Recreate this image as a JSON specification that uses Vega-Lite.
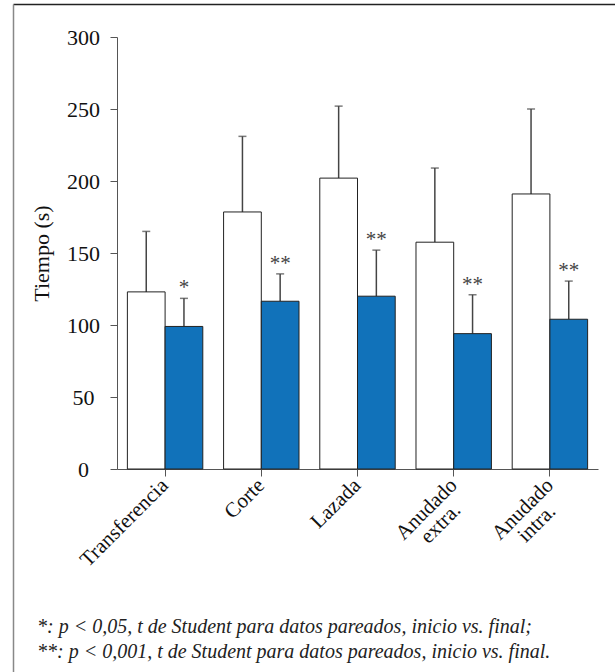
{
  "$schema": "https://vega.github.io/schema/vega-lite/v6.json",
  "autosize": "none",
  "width": 602,
  "height": 668,
  "padding": {"left": 13, "top": 4, "right": 0, "bottom": 0},
  "background": "white",
  "config": {"view": {"stroke": null}, "font": "Liberation Serif"},
  "title": {
    "text": ["*: p < 0,05, t de Student para datos pareados, inicio vs. final;", "**: p < 0,001, t de Student para datos pareados, inicio vs. final."],
    "orient": "bottom",
    "anchor": "start",
    "frame": "group",
    "offset": -58,
    "dx": 24,
    "font": "Liberation Serif",
    "fontStyle": "italic",
    "fontWeight": "normal",
    "fontSize": 20,
    "lineHeight": 25,
    "color": "#222"
  },
  "data": {
    "values": [
      {"tarea": "Transferencia", "fase": "Inicio", "media": 123, "sup": 165, "sig": ""},
      {"tarea": "Transferencia", "fase": "Final", "media": 99, "sup": 118.5, "sig": "*"},
      {"tarea": "Corte", "fase": "Inicio", "media": 178.5, "sup": 231, "sig": ""},
      {"tarea": "Corte", "fase": "Final", "media": 116.5, "sup": 135.5, "sig": "**"},
      {"tarea": "Lazada", "fase": "Inicio", "media": 202, "sup": 252, "sig": ""},
      {"tarea": "Lazada", "fase": "Final", "media": 120, "sup": 152, "sig": "**"},
      {"tarea": "Anudado extra.", "fase": "Inicio", "media": 157.5, "sup": 209, "sig": ""},
      {"tarea": "Anudado extra.", "fase": "Final", "media": 94, "sup": 121, "sig": "**"},
      {"tarea": "Anudado intra.", "fase": "Inicio", "media": 191, "sup": 250, "sig": ""},
      {"tarea": "Anudado intra.", "fase": "Final", "media": 104, "sup": 130.5, "sig": "**"}
    ]
  },
  "layer": [
    {
      "encoding": {
        "x": {
          "field": "tarea",
          "type": "nominal",
          "sort": ["Transferencia", "Corte", "Lazada", "Anudado extra.", "Anudado intra."],
          "scale": {"range": [104, 585], "paddingInner": 0.216, "paddingOuter": 0.108},
          "axis": {
            "orient": "bottom",
            "offset": -203,
            "title": null,
            "labelAngle": -45,
            "labelAlign": {"condition": {"test": "indexof(datum.label, ' ') > 0", "value": "center"}, "value": "right"},
            "labelOffset": {"condition": {"test": "indexof(datum.label, ' ') > 0", "value": -27}, "value": 0},
            "labelPadding": {"condition": {"test": "indexof(datum.label, ' ') > 0", "value": 33}, "value": 6},
            "labelBaseline": "middle",
            "labelFontSize": 21,
            "labelColor": "#111",
            "labelExpr": "split(datum.label, ' ')",
            "labelLineHeight": 20,
            "tickSize": 7,
            "tickColor": "#555",
            "domainColor": "#555"
          }
        },
        "xOffset": {"field": "fase", "type": "nominal", "sort": ["Inicio", "Final"], "scale": {"paddingInner": 0, "paddingOuter": 0}},
        "y": {
          "field": "media",
          "type": "quantitative",
          "scale": {"domain": [0, 300], "range": [465, 33], "nice": false},
          "axis": {
            "orient": "left",
            "offset": -104,
            "values": [0, 50, 100, 150, 200, 250, 300],
            "title": "Tiempo (s)",
            "titleFontSize": 22,
            "titleFontWeight": "normal",
            "titleColor": "#111",
            "titlePadding": 13,
            "labelFontSize": 22,
            "labelColor": "#111",
            "labelAlign": "center",
            "labelPadding": 27,
            "tickSize": 7,
            "tickColor": "#555",
            "domainColor": "#555",
            "grid": false
          }
        }
      },
      "layer": [
        {
          "mark": {"type": "rule", "color": "#444", "strokeWidth": 1.5},
          "encoding": {"y2": {"field": "sup"}}
        },
        {
          "mark": {"type": "tick", "color": "#444", "size": 8, "thickness": 1.5},
          "encoding": {"y": {"field": "sup", "type": "quantitative"}}
        },
        {
          "mark": {"type": "bar", "stroke": "#222", "strokeWidth": 1},
          "encoding": {
            "fill": {"field": "fase", "type": "nominal", "scale": {"domain": ["Inicio", "Final"], "range": ["#ffffff", "#1172ba"]}, "legend": null}
          }
        },
        {
          "mark": {"type": "text", "fontSize": 21, "color": "#444", "baseline": "middle", "dy": -10},
          "encoding": {"y": {"field": "sup", "type": "quantitative"}, "text": {"field": "sig"}}
        }
      ]
    },
    {
      "mark": {"type": "point", "opacity": 0},
      "encoding": {
        "x": {"datum": 0, "type": "quantitative", "scale": {"domain": [0, 1]},
          "axis": {"orient": "top", "domain": true, "domainColor": "#222", "domainWidth": 1.5, "ticks": false, "labels": false, "title": null, "grid": false}},
        "y": {"datum": 0, "type": "quantitative", "scale": {"domain": [0, 1]},
          "axis": {"orient": "left", "domain": true, "domainColor": "#888", "domainWidth": 1.5, "ticks": false, "labels": false, "title": null, "grid": false}}
      }
    }
  ],
  "resolve": {"scale": {"x": "independent", "y": "independent"}, "axis": {"x": "independent", "y": "independent"}}
}
